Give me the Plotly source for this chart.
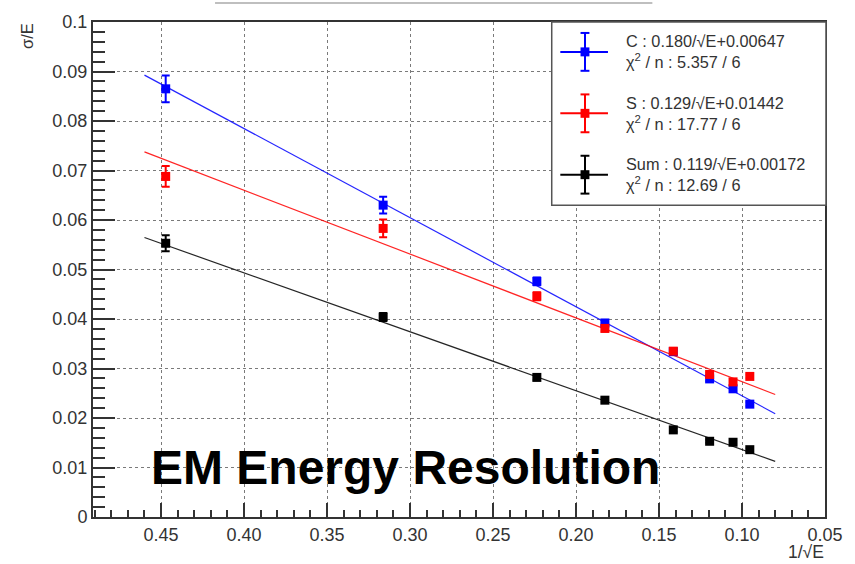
import plotly.graph_objects as go

# ---------------- data ----------------
inv_sqrt_E = [0.4472, 0.3162, 0.2236, 0.1826, 0.1414, 0.1195, 0.1054, 0.0953]

c_vals = [0.0865, 0.0630, 0.0476, 0.0392, 0.0334, 0.0279, 0.0259, 0.0228]
c_errs = [0.0027, 0.0017, 0.0008, 0.0006, 0.0005, 0.0004, 0.0004, 0.0004]

s_vals = [0.0688, 0.0583, 0.0446, 0.0381, 0.0335, 0.0288, 0.0273, 0.0284]
s_errs = [0.0021, 0.0018, 0.0008, 0.0006, 0.0005, 0.0004, 0.0004, 0.0004]

sum_vals = [0.0553, 0.0404, 0.0282, 0.0236, 0.0176, 0.0153, 0.0151, 0.0136]
sum_errs = [0.0016, 0.0008, 0.0005, 0.0004, 0.0004, 0.0003, 0.0003, 0.0003]

# fit parameters: sigma/E = a/sqrt(E) + b
fit_slopes = [0.180, 0.129, 0.119]
fit_consts = [0.00647, 0.01442, 0.00172]
fit_xrange = [0.46, 0.08]

series_names = ["C", "S", "Sum"]
series_colors = ["#0000ff", "#ff0000", "#000000"]
legend_line1 = ["C : 0.180/√E+0.00647", "S : 0.129/√E+0.01442", "Sum : 0.119/√E+0.00172"]
legend_line2 = ["χ<sup>2</sup> / n : 5.357 / 6", "χ<sup>2</sup> / n : 17.77 / 6",
                "χ<sup>2</sup> / n : 12.69 / 6"]

x_ticks = [0.45, 0.40, 0.35, 0.30, 0.25, 0.20, 0.15, 0.10, 0.05]
x_tick_text = ["0.45", "0.40", "0.35", "0.30", "0.25", "0.20", "0.15", "0.10", "0.05"]

# ---------------- layout helpers ----------------
W, H = 855, 564
L, R, T, B = 93, 20, 20, 47
PW, PH = W - L - R, H - T - B


def px(x):
    return (x - L) / PW


def py(y):
    return (H - B - y) / PH


FONT = "Liberation Sans, Arial, Helvetica, sans-serif"
AXC = "#333333"

fig = go.Figure()

all_vals = [c_vals, s_vals, sum_vals]
all_errs = [c_errs, s_errs, sum_errs]

for i in range(3):
    fx = fit_xrange
    fy = [fit_slopes[i] * v + fit_consts[i] for v in fx]
    fig.add_trace(go.Scatter(x=fx, y=fy, mode="lines",
                             line=dict(color=series_colors[i], width=1.2),
                             opacity=0.85,
                             showlegend=False, hoverinfo="skip"))

for i in range(3):
    fig.add_trace(go.Scatter(
        x=inv_sqrt_E, y=all_vals[i], mode="markers", name=series_names[i],
        marker=dict(symbol="square", size=9, color=series_colors[i],
                    line=dict(width=0)),
        error_y=dict(type="data", array=all_errs[i], visible=True,
                     color=series_colors[i], thickness=2, width=4),
        showlegend=False))

shapes = []
annotations = []

# legend box
shapes.append(dict(type="rect", xref="paper", yref="paper",
                   x0=px(558), x1=px(836), y0=py(204), y1=py(20),
                   line=dict(color="#555555", width=1.5), fillcolor="white",
                   layer="above"))

entry_cy = [50, 111.7, 173.3]
cx = 591.7
for i in range(3):
    cy = entry_cy[i]
    col = series_colors[i]
    shapes.append(dict(type="line", xref="paper", yref="paper",
                       x0=px(566.7), x1=px(615), y0=py(cy), y1=py(cy),
                       line=dict(color=col, width=2), layer="above"))
    shapes.append(dict(type="line", xref="paper", yref="paper",
                       x0=px(cx), x1=px(cx), y0=py(cy - 19), y1=py(cy + 19),
                       line=dict(color=col, width=2), layer="above"))
    for d in (-19, 19):
        shapes.append(dict(type="line", xref="paper", yref="paper",
                           x0=px(cx - 4.5), x1=px(cx + 4.5), y0=py(cy + d), y1=py(cy + d),
                           line=dict(color=col, width=2), layer="above"))
    shapes.append(dict(type="rect", xref="paper", yref="paper",
                       x0=px(cx - 4.5), x1=px(cx + 4.5), y0=py(cy + 4.5), y1=py(cy - 4.5),
                       line=dict(width=0), fillcolor=col, layer="above"))
    annotations.append(dict(xref="paper", yref="paper", x=px(631), y=py(cy - 10.5),
                            xanchor="left", yanchor="middle", showarrow=False,
                            text=legend_line1[i], font=dict(family=FONT, size=16.3, color="#333333")))
    annotations.append(dict(xref="paper", yref="paper", x=px(631), y=py(cy + 9.5),
                            xanchor="left", yanchor="middle", showarrow=False,
                            text=legend_line2[i], font=dict(family=FONT, size=16.3, color="#333333")))

# partially visible title box edge at top
shapes.append(dict(type="line", xref="paper", yref="paper",
                   x0=px(216.7), x1=px(660), y0=py(0.8), y1=py(0.8),
                   line=dict(color="#aaaaaa", width=1.5)))

# axis titles
annotations.append(dict(xref="paper", yref="paper", x=px(26), y=py(19),
                        xanchor="center", yanchor="top", textangle=-90, showarrow=False,
                        text="σ/E", font=dict(family=FONT, size=16.5, color="#333333")))
annotations.append(dict(xref="paper", yref="paper", x=px(836), y=py(552),
                        xanchor="right", yanchor="middle", showarrow=False,
                        text="1/√E", font=dict(family=FONT, size=17.5, color="#333333")))

# overlay caption
annotations.append(dict(xref="paper", yref="paper", x=px(150), y=py(467),
                        xanchor="left", yanchor="middle", showarrow=False,
                        text="<b>EM Energy Resolution</b>",
                        font=dict(family=FONT, size=48, color="#000000")))

fig.update_layout(
    width=W, height=H,
    margin=dict(l=L, r=R, t=T, b=B, pad=0),
    paper_bgcolor="white", plot_bgcolor="white",
    showlegend=False,
    shapes=shapes, annotations=annotations,
    xaxis=dict(range=[0.491, 0.05], autorange=False,
               tickmode="array", tickvals=x_ticks, ticktext=x_tick_text,
               ticks="inside", ticklen=14, tickwidth=1.5, tickcolor=AXC,
               minor=dict(dtick=0.01, tick0=0, ticks="inside", ticklen=7,
                          tickwidth=1.5, tickcolor=AXC, showgrid=False),
               showline=True, linecolor=AXC, linewidth=2, mirror=True,
               showgrid=True, gridcolor="#7a7a7a", griddash="dot", gridwidth=1,
               zeroline=False,
               tickfont=dict(family=FONT, size=18, color="#333333")),
    yaxis=dict(range=[0, 0.1], autorange=False,
               tickmode="linear", tick0=0, dtick=0.01,
               ticks="inside", ticklen=22, tickwidth=1.5, tickcolor=AXC,
               minor=dict(dtick=0.002, tick0=0, ticks="inside", ticklen=12,
                          tickwidth=1.5, tickcolor=AXC, showgrid=False),
               showline=True, linecolor=AXC, linewidth=2, mirror=True,
               showgrid=True, gridcolor="#7a7a7a", griddash="dot", gridwidth=1,
               zeroline=False,
               tickfont=dict(family=FONT, size=18, color="#333333")),
)

fig.write_html("out.html",
               config={"displayModeBar": False},
               post_script="document.body.style.margin='0';document.body.style.padding='0';")
